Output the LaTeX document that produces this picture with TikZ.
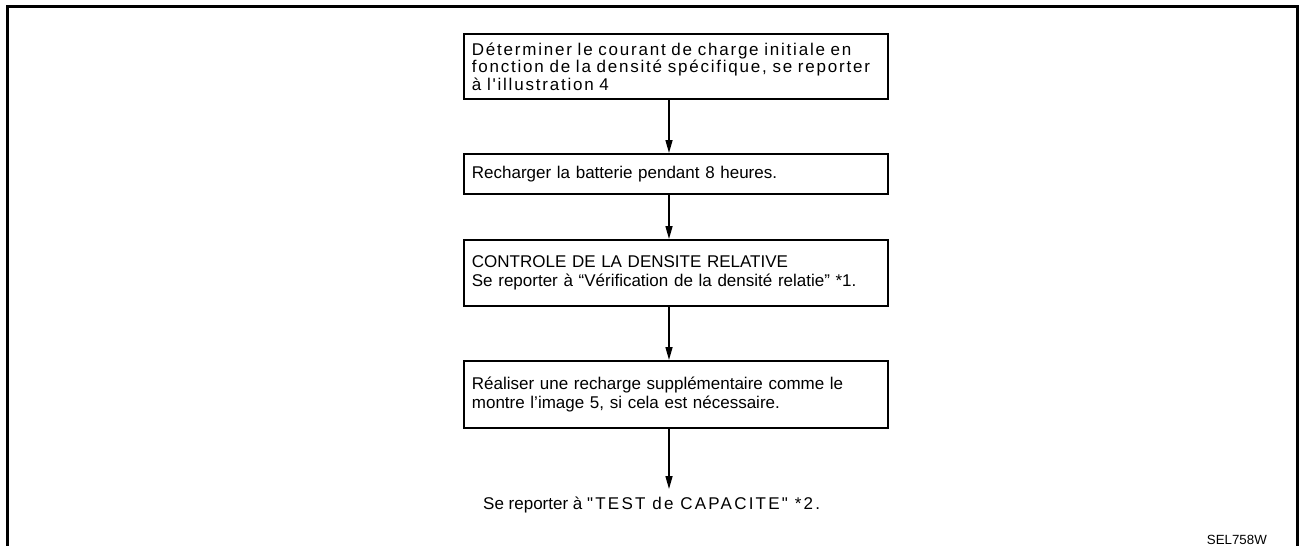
\documentclass[tikz,border=0pt]{standalone}
\usepackage{fontspec}
\setmainfont{Liberation Sans}
\newfontfamily\lib{Liberation Sans}
\usetikzlibrary{arrows.meta}
\begin{document}
\begin{tikzpicture}[x=1pt,y=-1pt,
  stepbox/.style={draw=black,line width=1.8pt,anchor=north west,
    minimum width=424pt,text width=408pt,inner xsep=8pt,inner ysep=0pt,
    align=left,font=\lib\fontsize{17}{19}\selectfont},
  flow/.style={line width=1.5pt,-{Triangle[length=13pt,width=7pt]}},
  frameline/.style={line width=3pt}]
\useasboundingbox (0,0) rectangle (1299,546);
\draw[frameline] (7,548) -- (7,6) -- (1297,6) -- (1297,548);
\node[stepbox,minimum height=65pt,font=\lib\fontsize{17}{17.5}\selectfont\addfontfeatures{LetterSpace=10.5}] (b1) at (463,33)
  {Déterminer le courant de charge initiale en\\fonction de la densité spécifique, se reporter\\à l'illustration 4};
\node[stepbox,minimum height=40pt] (b2) at (463,153)
  {Recharger la batterie pendant 8 heures.};
\node[stepbox,minimum height=66pt] (b3) at (463,239)
  {CONTROLE DE LA DENSITE RELATIVE\\Se reporter à “Vérification de la densité relatie” *1.};
\node[stepbox,minimum height=67pt] (b4) at (463,360)
  {Réaliser une recharge supplémentaire comme le\\montre l’image 5, si cela est nécessaire.};
\node[anchor=west,inner sep=0pt,font=\lib\fontsize{17}{19}\selectfont] (end) at (483,505)
  {Se reporter à {\addfontfeatures{LetterSpace=13}"TEST de CAPACITE" *2.}};
\coordinate (t1) at (669,98);
\coordinate (h2) at (669,153);
\coordinate (t2) at (669,193);
\coordinate (h3) at (669,239);
\coordinate (t3) at (669,305);
\coordinate (h4) at (669,360);
\coordinate (t4) at (669,427);
\coordinate (h5) at (669,489);
\draw[flow] (t1) -- (h2);
\draw[flow] (t2) -- (h3);
\draw[flow] (t3) -- (h4);
\draw[flow] (t4) -- (h5);
\node[anchor=east,inner sep=0pt,font=\lib\fontsize{13.3}{15}\selectfont] (code) at (1267,540) {SEL758W};
\end{tikzpicture}
\end{document}
